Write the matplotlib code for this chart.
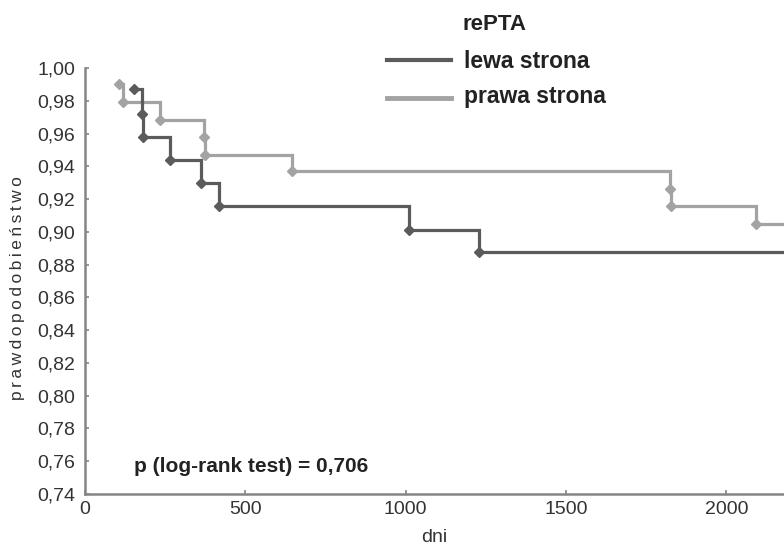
import matplotlib
matplotlib.use("Agg")
import matplotlib.pyplot as plt
from matplotlib.lines import Line2D
from matplotlib.ticker import FuncFormatter

plt.rcParams['font.family'] = ['Liberation Sans', 'DejaVu Sans']

# Kaplan-Meier points (day, cumulative survival)
lewa_dni = [152, 178, 180, 266, 362, 419, 1009, 1230]
lewa_p = [0.987, 0.972, 0.958, 0.944, 0.930, 0.916, 0.901, 0.888]
prawa_dni = [105, 120, 235, 370, 373, 646, 1826, 1828, 2094]
prawa_p = [0.990, 0.979, 0.968, 0.958, 0.947, 0.937, 0.926, 0.916, 0.905]

x_max = 2180
y_ticks = [0.74, 0.76, 0.78, 0.80, 0.82, 0.84, 0.86, 0.88, 0.90, 0.92, 0.94, 0.96, 0.98, 1.00]
x_ticks = [0, 500, 1000, 1500, 2000]

c_dark = '#5b5b5b'
c_light = '#a3a3a3'
c_axis = '#858585'

fig = plt.figure(figsize=(7.84, 5.54), dpi=100)
ax = fig.add_axes([85/784, 60/554, 1 - 85/784, 426/554])

def km(ax, t, p, color):
    xs = t + [x_max]
    ys = p + [p[-1]]
    ax.plot(xs, ys, drawstyle='steps-post', color=color, lw=2.3, solid_joinstyle='miter')
    ax.plot(t, p, ls='none', marker='D', ms=5, color=color)

km(ax, prawa_dni, prawa_p, c_light)
km(ax, lewa_dni, lewa_p, c_dark)

ax.set_xlim(0, x_max)
ax.set_ylim(0.74, 1.00)
ax.set_xticks(x_ticks)
ax.set_yticks(y_ticks)
ax.yaxis.set_major_formatter(FuncFormatter(lambda v, pos: f"{v:.2f}".replace('.', ',')))
for s in ['top', 'right']:
    ax.spines[s].set_visible(False)
for s in ['left', 'bottom']:
    ax.spines[s].set_color(c_axis)
    ax.spines[s].set_linewidth(1.8)
ax.tick_params(direction='in', length=3, width=1.2, color=c_axis,
               labelsize=14, labelcolor='#333333')
ax.tick_params(axis='y', pad=7)
ax.tick_params(axis='x', pad=5)

ax.set_xlabel('dni', fontsize=14, color='#333333', labelpad=8)
fig.text(18/784, 1 - 288/554, '\u2009'.join('prawdopodobieństwo'), rotation=90,
         fontsize=12.5, color='#333333', ha='center', va='center')

ax.text(134/784, 1 - 467/554, 'p (log-rank test) = 0,706', transform=fig.transFigure,
        fontsize=15, fontweight='bold', color='#222222', va='center', ha='left')

# legend
fig.text(462/784, 1 - 24/554, 'rePTA', fontsize=16, fontweight='bold', color='#222222', va='center')
fig.text(464/784, 1 - 62/554, 'lewa strona', fontsize=16.5, fontweight='bold', color='#222222', va='center')
fig.text(464/784, 1 - 96/554, 'prawa strona', fontsize=16.5, fontweight='bold', color='#222222', va='center')
fig.add_artist(Line2D([387/784, 451/784], [1 - 60/554, 1 - 60/554], color=c_dark, lw=3))
fig.add_artist(Line2D([387/784, 451/784], [1 - 98/554, 1 - 98/554], color=c_light, lw=3.5))

fig.savefig('out.png', dpi=100)
